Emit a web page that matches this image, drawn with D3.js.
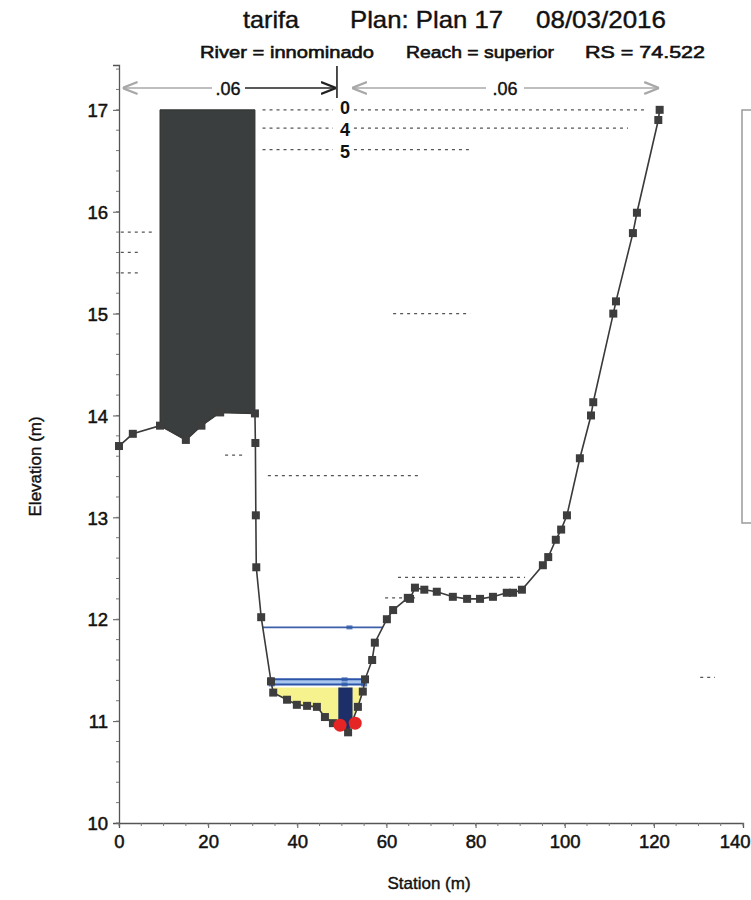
<!DOCTYPE html>
<html><head><meta charset="utf-8">
<script src="https://cdn.jsdelivr.net/npm/d3@7"></script>
<style>
body{margin:0;background:#fff}
svg{display:block}
text{font-family:"Liberation Sans",Arial,sans-serif;fill:#111}
</style>
</head><body>
<svg id="chart" width="751" height="900"></svg>
<script>
// ---------- data ----------
const groundStation = [0, 3.1, 9.2, 15.0, 18.5, 22.7, 30.5, 30.6, 30.7, 30.8, 31.9, 34.1, 34.6, 37.7, 39.9, 42.2, 44.4, 46.2, 48.0, 51.4, 53.6, 54.7, 55.2, 56.8, 57.4, 60.1, 61.5, 64.8, 65.3, 66.4, 68.5, 71.3, 74.9, 78.1, 81.0, 83.9, 87.0, 88.4, 90.4, 95.1, 96.3, 98.0, 99.2, 100.5, 103.4, 105.9, 106.4, 110.9, 111.5, 115.3, 116.2, 121.0, 121.3];
const groundElev    = [13.70, 13.82, 13.90, 13.76, 13.90, 14.03, 14.02, 13.73, 13.02, 12.51, 12.02, 11.39, 11.28, 11.21, 11.16, 11.15, 11.14, 11.04, 10.98, 10.89, 11.14, 11.29, 11.41, 11.60, 11.77, 12.00, 12.09, 12.21, 12.20, 12.31, 12.29, 12.27, 12.22, 12.20, 12.20, 12.22, 12.26, 12.26, 12.29, 12.53, 12.61, 12.78, 12.88, 13.02, 13.58, 14.00, 14.13, 15.00, 15.12, 15.79, 15.99, 16.90, 17.00];
const blockStation = [9.2, 30.5];      // blocked obstruction extent
const blockTop = 17.0;
const wsElev = [11.92, 11.41, 11.36];  // water surfaces
const fillElev = 11.33;                // flow area top
const mainChannel = [49.2, 52.4];      // dark flow band
const redStation = [49.6, 53.0];
const redElev = [10.96, 10.98];
const nValues = [".06", ".06"];
const bankStation = 48.9;
const profileLabels = ["0", "4", "5"];
const profileElev = [17.0, 16.82, 16.61];
const profileEnd = [118.0, 114.2, 78.5];
const strayMarks = [ // [station1, station2, elevation]
  [61.5, 78.8, 15.0], [33.4, 67.5, 13.41], [23.8, 28.3, 13.61], [0.4, 8.0, 15.80],
  [0.4, 4.8, 15.60], [0.4, 4.8, 15.40], [62.6, 91.1, 12.41], [59.7, 66.4, 12.21], [130.4, 133.7, 11.43]
];
const xTicks = [0, 20, 40, 60, 80, 100, 120, 140];
const yTicks = [10, 11, 12, 13, 14, 15, 16, 17];
const titleParts = ["tarifa", "Plan: Plan 17", "08/03/2016"];
const subtitleParts = ["River = innominado", "Reach = superior", "RS = 74.522"];

// ---------- scales ----------
const svg = d3.select("#chart");
const x = d3.scaleLinear().domain([0, 140]).range([119, 743]);
const y = d3.scaleLinear().domain([10, 17.44]).range([823, 65]);

// ---------- titles ----------
const tx = [[243, 56], [350, 153], [536, 130]];
titleParts.forEach((t, i) => svg.append("text").attr("x", tx[i][0]).attr("y", 28)
  .attr("font-size", 24).attr("stroke", "#111").attr("stroke-width", 0.4)
  .attr("textLength", tx[i][1]).attr("lengthAdjust", "spacingAndGlyphs").text(t));
const sx = [[200, 174], [406, 148], [585, 120]];
subtitleParts.forEach((t, i) => svg.append("text").attr("x", sx[i][0]).attr("y", 58)
  .attr("font-size", 17).attr("stroke", "#111").attr("stroke-width", 0.6)
  .attr("textLength", sx[i][1]).attr("lengthAdjust", "spacingAndGlyphs").text(t));

// ---------- legend box (cut off at right) ----------
svg.append("rect").attr("x", 742).attr("y", 110).attr("width", 30).attr("height", 413)
  .attr("fill", "none").attr("stroke", "#9a9a9a").attr("stroke-width", 1.5);

// ---------- axes ----------
const yAxis = svg.append("g").attr("transform", `translate(${x(0)},0)`)
  .call(d3.axisLeft(y).tickValues(yTicks).tickSize(6).tickFormat(d3.format("d")));
const xAxis = svg.append("g").attr("transform", `translate(0,${y(10)})`)
  .call(d3.axisBottom(x).tickValues(xTicks).tickSize(5).tickFormat(d3.format("d")));
[yAxis, xAxis].forEach(g => {
  g.attr("font-size", 18.5).attr("font-family", "Liberation Sans, Arial, sans-serif");
  g.select(".domain").attr("stroke", "#555").attr("stroke-width", 1.3);
  g.selectAll(".tick line").attr("stroke", "#555");
  g.selectAll(".tick text").attr("fill", "#111").attr("stroke", "#111").attr("stroke-width", 0.5);
});
yAxis.selectAll(".tick text").attr("x", -11).attr("dy", "0.36em");
xAxis.selectAll(".tick text").attr("y", 12);
xAxis.selectAll(".tick").filter(d => d === 140).select("text").attr("text-anchor", "end").attr("x", 7);
// minor ticks
const yMinor = d3.range(10, 17.41, 0.2);
svg.append("g").selectAll("line").data(yMinor).join("line")
  .attr("x1", x(0) - 3).attr("x2", x(0)).attr("y1", d => y(d)).attr("y2", d => y(d)).attr("stroke", "#777");
const xMinor = d3.range(0, 141, 5);
svg.append("g").selectAll("line").data(xMinor).join("line")
  .attr("y1", y(10)).attr("y2", y(10) + 3).attr("x1", d => x(d)).attr("x2", d => x(d)).attr("stroke", "#777");

svg.append("text").attr("x", x(70) - 2).attr("y", 889).attr("text-anchor", "middle")
  .attr("font-size", 17).attr("stroke", "#111").attr("stroke-width", 0.4).text("Station (m)");
svg.append("text").attr("transform", `translate(41,${y(13.5)}) rotate(-90)`).attr("text-anchor", "middle")
  .attr("font-size", 17).attr("stroke", "#111").attr("stroke-width", 0.4).text("Elevation (m)");

// ---------- helpers ----------
const ground = groundStation.map((s, i) => [s, groundElev[i]]);
const minIdx = d3.minIndex(groundElev);
function crossing(level) {
  let l = null, r = null;
  for (let i = minIdx; i > 0; i--) {
    const a = ground[i - 1], b = ground[i];
    if (a[1] >= level && b[1] < level) { l = a[0] + (a[1] - level) / (a[1] - b[1]) * (b[0] - a[0]); break; }
  }
  for (let i = minIdx; i < ground.length - 1; i++) {
    const a = ground[i], b = ground[i + 1];
    if (a[1] < level && b[1] >= level) { r = a[0] + (level - a[1]) / (b[1] - a[1]) * (b[0] - a[0]); break; }
  }
  return [l, r];
}
const line = d3.line().x(d => x(d[0])).y(d => y(d[1]));

// ---------- stray scan marks / profile label rows ----------
const dots = svg.append("g").attr("stroke", "#555").attr("stroke-width", 1.2).attr("stroke-dasharray", "3,4");
strayMarks.forEach(m => dots.append("line").attr("x1", x(m[0])).attr("x2", x(m[1])).attr("y1", y(m[2])).attr("y2", y(m[2])));
const labelY = [107, 129, 151];
profileLabels.forEach((p, i) => {
  dots.append("line").attr("x1", x(32.2)).attr("x2", x(bankStation) - 4).attr("y1", y(profileElev[i])).attr("y2", y(profileElev[i]));
  dots.append("line").attr("x1", x(bankStation) + 17).attr("x2", x(profileEnd[i])).attr("y1", y(profileElev[i])).attr("y2", y(profileElev[i]));
  svg.append("text").attr("x", x(bankStation) + 8).attr("y", labelY[i] + 6.5).attr("text-anchor", "middle")
    .attr("font-size", 18).attr("font-weight", "bold").text(p);
});

// ---------- flow area fills ----------
const cf = crossing(fillElev);
const wet = [[cf[0], fillElev]].concat(ground.filter(d => d[0] > cf[0] && d[0] < cf[1])).concat([[cf[1], fillElev]]);
svg.append("path").attr("d", line(wet) + "Z").attr("fill", "#f6f38e");
svg.append("clipPath").attr("id", "mc").append("rect")
  .attr("x", x(mainChannel[0])).attr("width", x(mainChannel[1]) - x(mainChannel[0])).attr("y", 0).attr("height", 900);
svg.append("path").attr("d", line(wet) + "Z").attr("fill", "#1d2f68").attr("clip-path", "url(#mc)");

// ---------- water surfaces ----------
const c1 = crossing(wsElev[1]);
svg.append("rect").attr("x", x(c1[0])).attr("y", y(wsElev[1])).attr("width", x(c1[1]) - x(c1[0]))
  .attr("height", y(wsElev[2]) - y(wsElev[1])).attr("fill", "#a9c6ee");
wsElev.forEach((w, i) => {
  const c = crossing(w);
  svg.append("line").attr("x1", x(c[0])).attr("x2", x(c[1])).attr("y1", y(w)).attr("y2", y(w))
    .attr("stroke", i === 0 ? "#3b5fa8" : "#2c55a8").attr("stroke-width", i === 0 ? 1.6 : 2);
  [c[0], (c[0] + c[1]) / 2 + 6, c[1]].forEach((s, j) => {
    if (i === 0 && j !== 1) return;
    svg.append("rect").attr("x", x(s) - 3).attr("y", y(w) - 2).attr("width", 6).attr("height", 4)
      .attr("fill", "#2f5aa8").attr("opacity", 0.8);
  });
});

// ---------- blocked obstruction ----------
const blk = [[blockStation[0], blockTop], [blockStation[1], blockTop]]
  .concat(ground.filter(d => d[0] >= blockStation[0] && d[0] <= blockStation[1] && !(d[0] === blockStation[1] && d[1] < 14)).reverse());
svg.append("path").attr("d", line(blk) + "Z").attr("fill", "#3b3e3e").attr("stroke", "#333");

// ---------- ground ----------
svg.append("path").attr("d", line(ground)).attr("fill", "none").attr("stroke", "#3a3a3a").attr("stroke-width", 1.6);
svg.append("g").selectAll("rect").data(ground).join("rect")
  .attr("x", d => x(d[0]) - 4).attr("y", d => y(d[1]) - 4).attr("width", 8).attr("height", 8)
  .attr("fill", "#3d3d3d");

// red points
svg.append("g").selectAll("circle").data(redStation).join("circle")
  .attr("cx", d => x(d)).attr("cy", (d, i) => y(redElev[i])).attr("r", 6.5).attr("fill", "#e52424");

// ---------- n-value arrows ----------
const ay = 88;
const defs = svg.append("defs");
function marker(id, col) {
  defs.append("marker").attr("id", id).attr("viewBox", "0 0 10 10").attr("refX", 10).attr("refY", 5)
    .attr("markerWidth", 10).attr("markerHeight", 10).attr("orient", "auto-start-reverse")
    .append("path").attr("d", "M0,1 L10,5 L0,9").attr("fill", "none").attr("stroke", col).attr("stroke-width", 1.5);
}
marker("ag", "#a8a8a8"); marker("ad", "#222");
svg.append("line").attr("x1", x(0.8)).attr("x2", 212).attr("y1", ay).attr("y2", ay)
  .attr("stroke", "#a8a8a8").attr("stroke-width", 1.5).attr("marker-start", "url(#ag)");
svg.append("line").attr("x1", 245).attr("x2", x(bankStation) - 1).attr("y1", ay).attr("y2", ay)
  .attr("stroke", "#222").attr("stroke-width", 1.5).attr("marker-end", "url(#ad)");
svg.append("line").attr("x1", x(bankStation) + 15).attr("x2", 486).attr("y1", ay).attr("y2", ay)
  .attr("stroke", "#a8a8a8").attr("stroke-width", 1.5).attr("marker-start", "url(#ag)");
svg.append("line").attr("x1", 524).attr("x2", x(121.2)).attr("y1", ay).attr("y2", ay)
  .attr("stroke", "#a8a8a8").attr("stroke-width", 1.5).attr("marker-end", "url(#ag)");
svg.append("line").attr("x1", x(bankStation)).attr("x2", x(bankStation)).attr("y1", 66).attr("y2", 98)
  .attr("stroke", "#222").attr("stroke-width", 1.6);
svg.append("text").attr("x", 228).attr("y", 95).attr("text-anchor", "middle").attr("font-size", 18)
  .attr("stroke", "#111").attr("stroke-width", 0.4).text(nValues[0]);
svg.append("text").attr("x", 505).attr("y", 95).attr("text-anchor", "middle").attr("font-size", 18)
  .attr("stroke", "#111").attr("stroke-width", 0.4).text(nValues[1]);
</script>
</body></html>
